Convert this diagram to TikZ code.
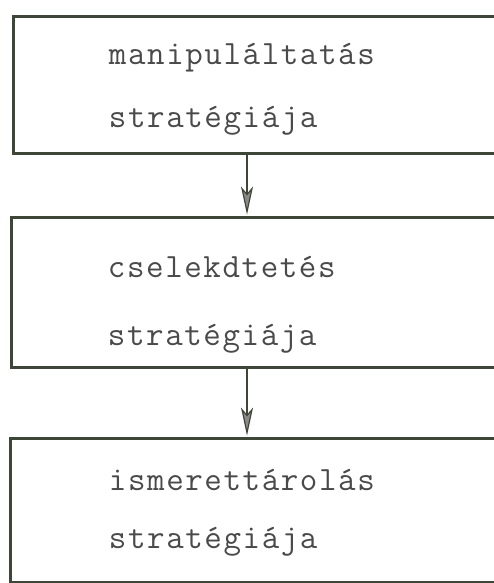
\documentclass[tikz,border=0pt]{standalone}
\usetikzlibrary{arrows.meta}

\definecolor{rule}{HTML}{3E4638}
\definecolor{ink}{HTML}{4A4A4A}
\definecolor{tip}{HTML}{8A8A8A}

% typewriter text: every character sits in a cell of fixed pitch
\newcommand\twtext[1]{\twloop#1\relax}
\def\twloop#1{\ifx#1\relax\else\makebox[19.1pt][c]{#1}\expandafter\twloop\fi}

\tikzset{
  frame/.style={draw=rule, line width=2.8pt, rectangle, anchor=north west,
                inner sep=0pt, minimum width=540pt},
  label/.style={anchor=base west, inner sep=0pt, text=ink,
                font=\fontfamily{lmtt}\fontsize{34}{38}\selectfont},
  link/.style={draw=rule, line width=2.5pt,
               -{Stealth[length=28pt, width=12pt, inset=7pt, fill=tip, line width=1.2pt]}},
}

\begin{document}
\begin{tikzpicture}[x=1pt, y=-1pt]
  \useasboundingbox (0,0) rectangle (494,583);
  \clip (0,0) rectangle (494,583);

  % three stacked boxes, open past the right edge
  \node[frame, minimum height=137pt] (b1) at (12,15) {};
  \node[frame, minimum height=150pt] (b2) at (10,216) {};
  \node[frame, minimum height=144pt] (b3) at (9,437) {};

  % box texts
  \node[label] (t1a) at (108,65)  {\twtext{manipuláltatás}};
  \node[label] (t1b) at (108,128) {\twtext{stratégiája}};
  \node[label] (t2a) at (107,277) {\twtext{cselekdtetés}};
  \node[label] (t2b) at (107,345) {\twtext{stratégiája}};
  \node[label] (t3a) at (108,490) {\twtext{ismerettárolás}};
  \node[label] (t3b) at (108,548) {\twtext{stratégiája}};

  % connectors down the middle
  \coordinate (ax) at (247,0);
  \draw[link] (b1.south -| ax) -- ([yshift=1.4pt]b2.north -| ax);
  \draw[link] (b2.south -| ax) -- ([yshift=1.4pt]b3.north -| ax);
\end{tikzpicture}
\end{document}
